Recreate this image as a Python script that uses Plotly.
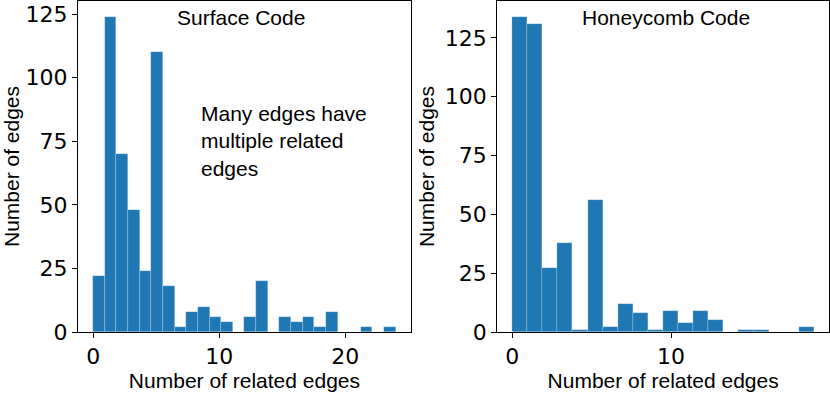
import numpy as np
import plotly.graph_objects as go

# Surface code histogram: 26 bins over [0, 24]
surface_counts = [22, 124, 70, 48, 24, 110, 18, 2, 8, 10, 6, 4, 0,
                  6, 20, 0, 6, 4, 6, 2, 8, 0, 0, 2, 0, 2]
surface_range = [0, 24]

# Honeycomb code histogram: 20 bins over [0, 19]
honeycomb_counts = [134, 131, 27, 38, 1, 56, 2, 12, 8, 1, 9, 4, 9, 5,
                    0, 1, 1, 0, 0, 2]
honeycomb_range = [0, 19]

x_title = "Number of related edges"
y_title = "Number of edges"
titles = ["Surface Code", "Honeycomb Code"]
note = "Many edges have<br>multiple related<br>edges"

BLUE = "#1f77b4"
TEXT_FONT = "Liberation Sans"
TICK_FONT = "DejaVu Sans"


def bin_geometry(counts, rng):
    edges = np.linspace(rng[0], rng[1], len(counts) + 1)
    return (edges[:-1] + edges[1:]) / 2, edges[1] - edges[0]


fig = go.Figure()

for i, (counts, rng) in enumerate([(surface_counts, surface_range),
                                   (honeycomb_counts, honeycomb_range)]):
    centers, w = bin_geometry(counts, rng)
    suffix = "" if i == 0 else "2"
    fig.add_trace(go.Bar(
        x=centers, y=counts, width=w,
        marker=dict(color=BLUE, line=dict(color="rgba(255,255,255,0.35)", width=0.6)),
        xaxis="x" + suffix, yaxis="y" + suffix,
        showlegend=False,
    ))

axis_common = dict(
    showline=True, mirror=True, linecolor="black", linewidth=1,
    ticks="outside", ticklen=5, tickcolor="black", tickwidth=1,
    showgrid=False, zeroline=False,
    tickfont=dict(family=TICK_FONT, size=22, color="black"),
    title_font=dict(family=TEXT_FONT, size=21, color="black"),
)

sx = surface_range[1] - surface_range[0]
hx = honeycomb_range[1] - honeycomb_range[0]

fig.update_layout(
    width=830, height=394,
    margin=dict(l=0, r=0, t=1, b=62),
    plot_bgcolor="white", paper_bgcolor="white",
    bargap=0,
    xaxis=dict(axis_common, domain=[0.094, 0.495],
               range=[surface_range[0] - 0.05 * sx, surface_range[1] + 0.05 * sx],
               tickvals=[0, 10, 20], title=dict(text=x_title, standoff=4)),
    yaxis=dict(axis_common, range=[0, max(surface_counts) * 1.05],
               tickvals=[0, 25, 50, 75, 100, 125], title=dict(text=y_title, standoff=4)),
    xaxis2=dict(axis_common, domain=[0.599, 0.999], anchor="y2",
                range=[honeycomb_range[0] - 0.05 * hx, honeycomb_range[1] + 0.05 * hx],
                tickvals=[0, 10], title=dict(text=x_title, standoff=4)),
    yaxis2=dict(axis_common, anchor="x2", range=[0, max(honeycomb_counts) * 1.05],
                tickvals=[0, 25, 50, 75, 100, 125], title=dict(text=y_title, standoff=4)),
    annotations=[
        dict(text=titles[0], xref="x", yref="paper", x=11.7, y=0.99, yanchor="top",
             showarrow=False, font=dict(family=TEXT_FONT, size=21, color="black")),
        dict(text=titles[1], xref="x2", yref="paper", x=9.7, y=0.99, yanchor="top",
             showarrow=False, font=dict(family=TEXT_FONT, size=21, color="black")),
        dict(text=note, xref="x", yref="y", x=8.4, y=75, xanchor="left", align="left",
             showarrow=False, font=dict(family=TEXT_FONT, size=21, color="black")),
    ],
)

fig.write_html("out.html", config={"displayModeBar": False},
               post_script="document.body.style.margin='0';")
